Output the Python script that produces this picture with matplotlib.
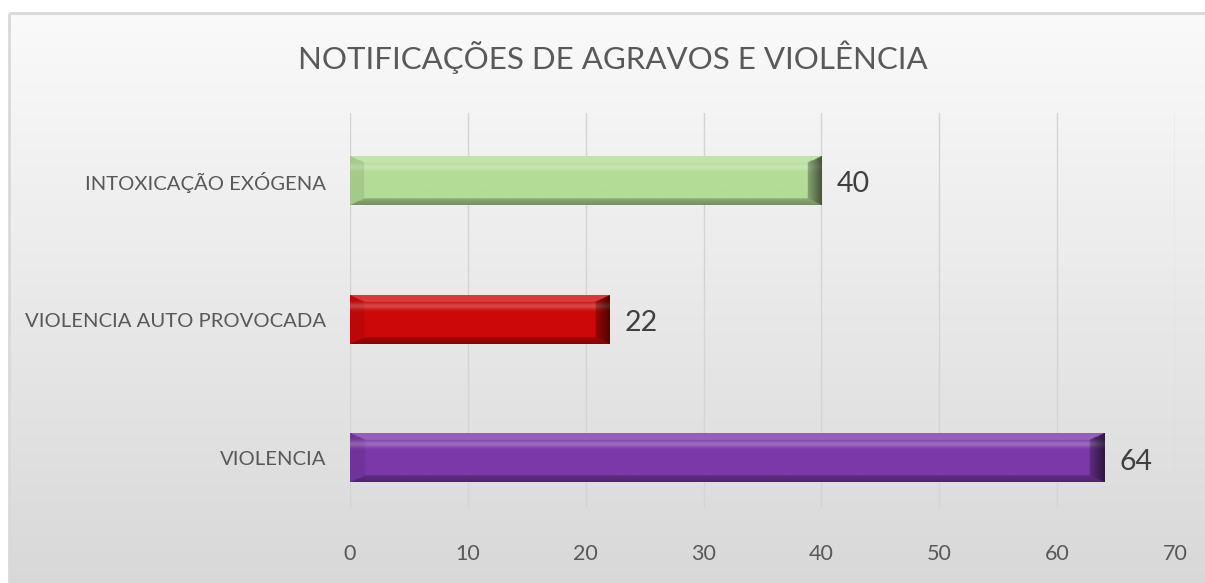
import numpy as np
import matplotlib.pyplot as plt
from matplotlib.patches import Rectangle
from matplotlib.colors import to_rgb

categories = ['VIOLENCIA', 'VIOLENCIA AUTO PROVOCADA', 'INTOXICAÇÃO EXÓGENA']
values = [64, 22, 40]
colors = ['#7a38a8', '#cc0808', '#b3dc96']
xticks = [0, 10, 20, 30, 40, 50, 60, 70]
title = 'NOTIFICAÇÕES DE AGRAVOS E VIOLÊNCIA'

plt.rcParams['font.family'] = ['Lato', 'DejaVu Sans']
txt = '#595959'

W, H = 1205, 583
fig = plt.figure(figsize=(W / 100, H / 100), dpi=100)
fig.patch.set_facecolor('white')

# background gradient of the chart area
bg = fig.add_axes([0, 0, 1, 1], zorder=0)
bg.set_xlim(0, W)
bg.set_ylim(H, 0)
bg.axis('off')
top_c = np.array(to_rgb('#fafafa'))
bot_c = np.array(to_rgb('#d8d8d8'))
t = np.linspace(0, 1, 200)[:, None, None]
grad = top_c * (1 - t) + bot_c * t
grad = np.repeat(grad, 2, axis=1)
bg.imshow(grad, extent=(9, W + 5, H + 5, 13), aspect='auto', interpolation='bilinear')
bg.add_patch(Rectangle((9, 13), W, H, fill=False, edgecolor='#d9d9d9', linewidth=2))

ax = fig.add_axes([350 / W, 75 / H, 825 / W, 395 / H], zorder=1)
ax.patch.set_alpha(0)
y = np.arange(len(categories))
h = 0.35
bars = ax.barh(y, values, height=h, color=colors, zorder=2)


def bevel_image(base, nx=400, ny=80, xb=0.035, yb=0.13):
    base = np.array(to_rgb(base))
    xs = np.linspace(0, 1, nx)[None, :]
    ys = np.linspace(0, 1, ny)[:, None]  # 0 = top
    dt = ys / yb
    db = (1 - ys) / yb
    dl = xs / xb
    dr = (1 - xs) / xb
    dmin = np.minimum(np.minimum(dt, db), np.minimum(dl, dr))
    # interior highlight stripe near top
    stripe = np.exp(-((ys - 0.22) / 0.07) ** 2)
    img = base[None, None, :] * np.ones((ny, nx, 1))
    img = img + (1 - img) * (0.25 * stripe)[:, :, None]
    shade = np.zeros((ny, nx))
    shade = np.where((dmin == dt) & (dt < 1), 0.2, shade)
    shade = np.where((dmin == db) & (db < 1), -0.35 * (1 - 0.4 * db), shade)
    shade = np.where((dmin == dl) & (dl < 1), -0.08, shade)
    shade = np.where((dmin == dr) & (dr < 1), -0.6 * (1 - 0.6 * dr), shade)
    light = np.clip(shade, 0, None)[:, :, None]
    dark = np.clip(-shade, 0, None)[:, :, None]
    img = img + (1 - img) * light
    img = img * (1 - dark)
    return np.clip(img, 0, 1)


for b, c, v in zip(bars, colors, values):
    yb0 = b.get_y()
    img = bevel_image(c, xb=1.2 / v)
    ax.imshow(img, extent=(0, v, yb0, yb0 + h), aspect='auto', origin='upper',
              interpolation='bilinear', zorder=3)
    ax.text(v + 1.3, b.get_y() + h / 2 - 0.025, str(v), va='center', ha='left',
            fontsize=20.5, color='#404040', zorder=4)

ax.set_xlim(0, 70)
ax.set_ylim(-0.36, 2.49)
ax.set_xticks(xticks)
ax.set_yticks(y)
ax.set_yticklabels(categories)
ax.grid(axis='x', color='#d4d4d4', linewidth=1, zorder=1)
ax.set_axisbelow(True)
for s in ax.spines.values():
    s.set_visible(False)
ax.tick_params(axis='x', length=0, pad=26, labelsize=15.5, labelcolor=txt)
ax.tick_params(axis='y', length=0, pad=17, labelsize=14.6, labelcolor=txt)
ax.set_aspect('auto')

fig.text(613 / W, 1 - 57 / H, title, ha='center', va='center', fontsize=22.5,
         color=txt)

fig.savefig('out.png', dpi=100)
